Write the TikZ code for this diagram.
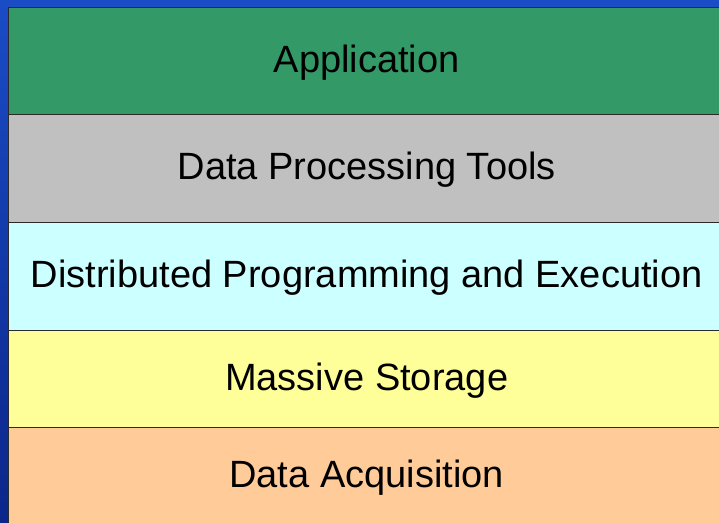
\documentclass[tikz,border=0pt]{standalone}
\usepackage{fontspec}
\setmainfont{Liberation Sans}
\definecolor{bgtop}{HTML}{1A4CC6}
\definecolor{bgbottom}{HTML}{0B268A}
\definecolor{appgreen}{HTML}{339966}
\definecolor{toolgray}{HTML}{C0C0C0}
\definecolor{distcyan}{HTML}{CCFFFF}
\definecolor{storeyellow}{HTML}{FFFF99}
\definecolor{acqpeach}{HTML}{FFCC99}
\definecolor{edge}{HTML}{2A2A2A}
\tikzset{
  layer/.style={draw=edge, line width=1.4pt, rectangle, anchor=north west,
    minimum width=716pt, minimum height=#1, inner sep=0pt,
    font=\fontsize{38}{42}\selectfont, text=black,
    text height=30pt, text depth=8pt},
}
\begin{document}
\begin{tikzpicture}[x=1pt,y=-1pt]
  \useasboundingbox (0,0) rectangle (719,522);
  \clip (0,0) rectangle (719,522);
  \shade[top color=bgtop, bottom color=bgbottom] (0,0) rectangle (719,522);
  \node[layer=98pt, fill=acqpeach] (acq) at (8,427) {Data Acquisition};
  \node[layer=97pt, fill=storeyellow] (store) at (8,330) {Massive Storage};
  \node[layer=108pt, fill=distcyan] (dist) at (8,222) {Distributed Programming and Execution};
  \node[layer=108pt, fill=toolgray] (tools) at (8,114) {Data Processing Tools};
  \node[layer=107pt, fill=appgreen] (app) at (8,7) {Application};
\end{tikzpicture}
\end{document}
